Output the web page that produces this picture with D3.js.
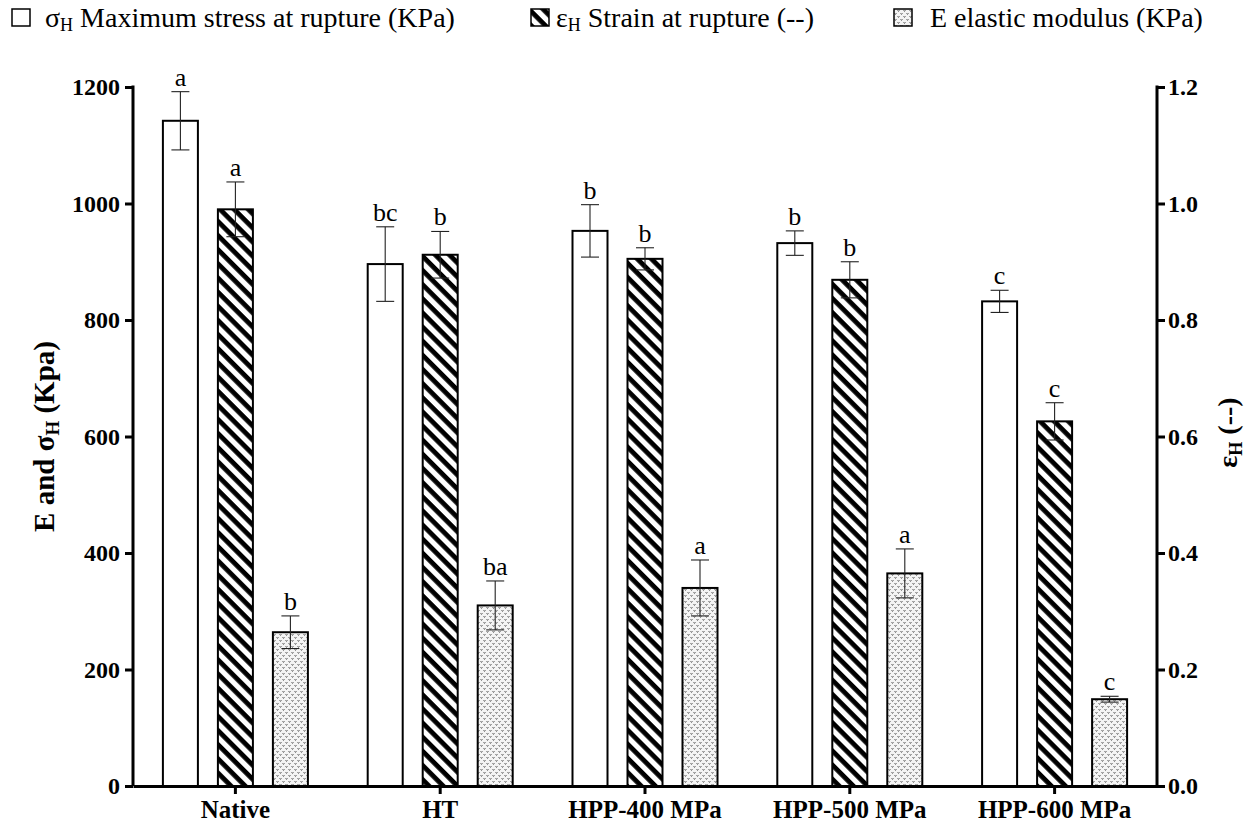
<!DOCTYPE html>
<html>
<head>
<meta charset="utf-8">
<script src="https://d3js.org/d3.v7.min.js"></script>
<style>
  body { margin: 0; background: #fff; }
  svg text { font-family: "Liberation Serif", "Times New Roman", serif; }
</style>
</head>
<body>
<div id="chart"></div>
<script>
// data
var groups = ["Native", "HT", "HPP-400 MPa", "HPP-500 MPa", "HPP-600 MPa"];
var stress = [1142, 896, 953, 932, 832];        // KPa, left axis
var stressErr = [50, 64, 45, 21, 19];
var strain = [0.990, 0.912, 0.905, 0.869, 0.626]; // --, right axis
var strainErr = [0.047, 0.040, 0.019, 0.031, 0.032];
var modulus = [264, 310, 340, 365, 149];        // KPa, left axis
var modulusErr = [28, 42, 48, 42, 5];
var stressLetters = ["a", "bc", "b", "b", "c"];
var strainLetters = ["a", "b", "b", "b", "c"];
var modulusLetters = ["b", "ba", "a", "a", "c"];
var leftTicks = [0, 200, 400, 600, 800, 1000, 1200];
var rightTicks = [0, 0.2, 0.4, 0.6, 0.8, 1.0, 1.2];

var serif = "'Liberation Serif', 'Times New Roman', serif";
var width = 1247, height = 825;
var margin = {left: 133, right: 90, top: 87, bottom: 39};

var svg = d3.select("#chart").append("svg")
  .attr("width", width)
  .attr("height", height)
  .style("font-family", serif);

// fill patterns
var defs = svg.append("defs");
var hatch = defs.append("pattern")
  .attr("id", "hatch")
  .attr("patternUnits", "userSpaceOnUse")
  .attr("width", 10).attr("height", 10)
  .attr("patternTransform", "rotate(45)");
hatch.append("rect").attr("width", 10).attr("height", 10).attr("fill", "#fff");
hatch.append("rect").attr("width", 10).attr("height", 4.8).attr("fill", "#000");

var dots = defs.append("pattern")
  .attr("id", "dots")
  .attr("patternUnits", "userSpaceOnUse")
  .attr("width", 6).attr("height", 6);
dots.append("rect").attr("width", 6).attr("height", 6).attr("fill", "#f4f4f4");
dots.append("path").attr("d", "M0.5,1 L1.5,2.5 L2.5,1").attr("stroke", "#666").attr("stroke-width", 0.9).attr("fill", "none");
dots.append("path").attr("d", "M3.5,4 L4.5,5.5 L5.5,4").attr("stroke", "#666").attr("stroke-width", 0.9).attr("fill", "none");

var x0 = d3.scaleBand()
  .domain(groups)
  .range([margin.left, width - margin.right]);

var y = d3.scaleLinear()
  .domain([0, 1200])
  .range([height - margin.bottom, margin.top]);

var y2 = d3.scaleLinear()
  .domain([0, 1.2])
  .range([height - margin.bottom, margin.top]);

var barW = 35, step = 55;

var series = [
  {vals: stress, err: stressErr, letters: stressLetters, scale: y, fill: "#fff", off: -step},
  {vals: strain, err: strainErr, letters: strainLetters, scale: y2, fill: "url(#hatch)", off: 0},
  {vals: modulus, err: modulusErr, letters: modulusLetters, scale: y, fill: "url(#dots)", off: step}
];

series.forEach(function(s) {
  var g = svg.append("g");
  groups.forEach(function(name, i) {
    var cx = x0(name) + x0.bandwidth() / 2 + s.off;
    var v = s.vals[i], e = s.err[i], sc = s.scale;
    g.append("rect")
      .attr("x", cx - barW / 2)
      .attr("y", sc(v))
      .attr("width", barW)
      .attr("height", sc(0) - sc(v))
      .attr("fill", s.fill)
      .attr("stroke", "#000")
      .attr("stroke-width", 2);
    // error bar
    g.append("line")
      .attr("x1", cx).attr("x2", cx)
      .attr("y1", sc(v + e)).attr("y2", sc(v - e))
      .attr("stroke", "#222").attr("stroke-width", 1.1);
    [v + e, v - e].forEach(function(t) {
      g.append("line")
        .attr("x1", cx - 9).attr("x2", cx + 9)
        .attr("y1", sc(t)).attr("y2", sc(t))
        .attr("stroke", "#222").attr("stroke-width", 1.1);
    });
    g.append("text")
      .attr("x", cx)
      .attr("y", sc(v + e) - 6)
      .attr("text-anchor", "middle")
      .attr("font-size", 26)
      .style("font-family", serif)
      .text(s.letters[i]);
  });
});

// axes
var xAxis = svg.append("g")
  .attr("transform", "translate(0," + (height - margin.bottom) + ")")
  .call(d3.axisBottom(x0).tickSize(8).tickSizeOuter(0));

var yAxis = svg.append("g")
  .attr("transform", "translate(" + margin.left + ",0)")
  .call(d3.axisLeft(y).tickValues(leftTicks).tickSize(8).tickSizeOuter(0).tickPadding(5)
    .tickFormat(d3.format("d")));

var yAxis2 = svg.append("g")
  .attr("transform", "translate(" + (width - margin.right) + ",0)")
  .call(d3.axisRight(y2).tickValues(rightTicks).tickSize(8).tickSizeOuter(0).tickPadding(3)
    .tickFormat(d3.format(".1f")));

[xAxis, yAxis, yAxis2].forEach(function(a) {
  a.attr("font-family", null);
  a.select(".domain").attr("stroke-width", 3).attr("stroke", "#000");
  a.selectAll(".tick line").attr("stroke-width", 3).attr("stroke", "#000");
  a.selectAll(".tick text")
    .style("font-family", serif)
    .attr("font-weight", "bold")
    .attr("font-size", 24)
    .attr("fill", "#000");
});
xAxis.selectAll(".tick text").attr("font-size", 25).attr("dy", null).attr("y", 32);
yAxis.select(".domain").attr("d", "M0," + (y(1200) - 1.5) + "V" + y(0));
yAxis2.select(".domain").attr("d", "M0," + (y(1200) - 1.5) + "V" + y(0));

// axis titles
var lt = svg.append("text")
  .attr("transform", "translate(54," + y(600) + ") rotate(-90)")
  .attr("text-anchor", "middle")
  .attr("font-size", 29)
  .attr("font-weight", "bold");
lt.append("tspan").text("E and σ");
lt.append("tspan").attr("font-size", 19).attr("dy", 5).text("H");
lt.append("tspan").attr("dy", -5).text(" (Kpa)");

var rt = svg.append("text")
  .attr("transform", "translate(1237," + (y(600) - 4) + ") rotate(-90)")
  .attr("text-anchor", "middle")
  .attr("font-size", 28)
  .attr("font-weight", "bold");
rt.append("tspan").text("ε");
rt.append("tspan").attr("font-size", 18).attr("dy", 5).text("H");
rt.append("tspan").attr("dy", -5).text(" (--)");

// legend
var legend = [
  {x: 12, tx: 45, fill: "#fff", sym: "σ", rest: " Maximum stress at rupture (KPa)"},
  {x: 531, tx: 556, fill: "url(#hatch)", sym: "ε", rest: " Strain at rupture (--)"},
  {x: 894, tx: 930, fill: "url(#dots)", sym: "", rest: "E elastic modulus (KPa)"}
];
legend.forEach(function(l) {
  svg.append("rect")
    .attr("x", l.x).attr("y", 9)
    .attr("width", 18).attr("height", 17)
    .attr("fill", l.fill)
    .attr("stroke", "#000").attr("stroke-width", 1.5);
  var t = svg.append("text")
    .attr("x", l.tx).attr("y", 27)
    .attr("font-size", 28);
  if (l.sym) {
    t.append("tspan").text(l.sym);
    t.append("tspan").attr("font-size", 18).attr("dy", 4).text("H");
    t.append("tspan").attr("dy", -4).text(l.rest);
  } else {
    t.append("tspan").text(l.rest);
  }
});
</script>
</body>
</html>
